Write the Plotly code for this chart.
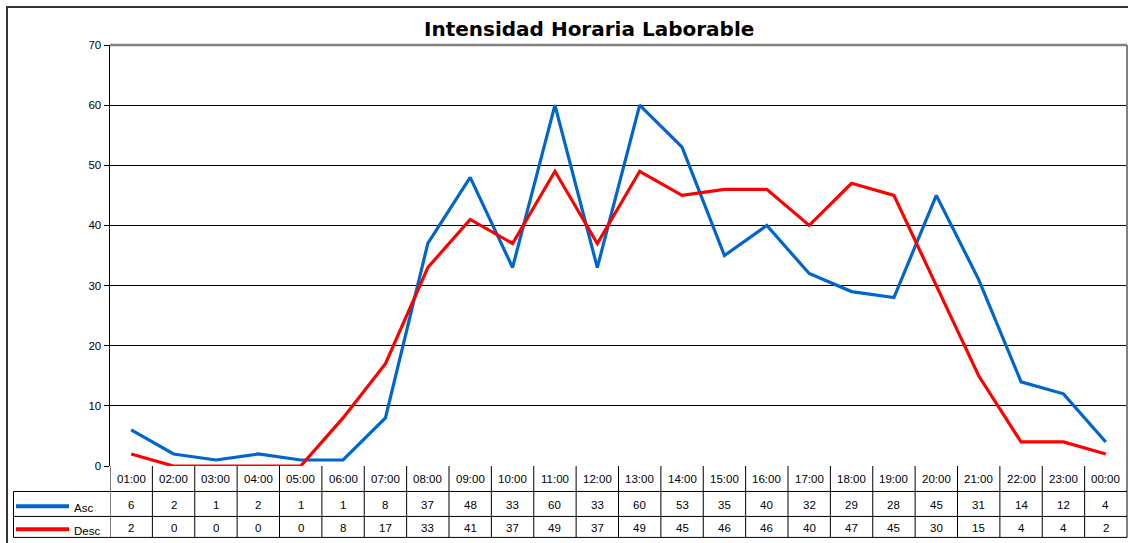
import plotly.graph_objects as go

hours = ["01:00", "02:00", "03:00", "04:00", "05:00", "06:00", "07:00", "08:00",
         "09:00", "10:00", "11:00", "12:00", "13:00", "14:00", "15:00", "16:00",
         "17:00", "18:00", "19:00", "20:00", "21:00", "22:00", "23:00", "00:00"]
asc = [6, 2, 1, 2, 1, 1, 8, 37, 48, 33, 60, 33, 60, 53, 35, 40, 32, 29, 28, 45, 31, 14, 12, 4]
desc = [2, 0, 0, 0, 0, 8, 17, 33, 41, 37, 49, 37, 49, 45, 46, 46, 40, 47, 45, 30, 15, 4, 4, 2]
series = [("Asc", asc, "#0066CC"), ("Desc", desc, "#FF0000")]
title = "Intensidad Horaria Laborable"

W, H = 1128, 543
L, R, T, B = 110, 1127, 45, 466.5  # plot area in pixels

def px(xp):
    return (xp - L) / (R - L)

def py(yp):
    return (B - yp) / (B - T)

FONT = "Liberation Sans, Arial, sans-serif"

fig = go.Figure()
for name, vals, col in series:
    fig.add_trace(go.Scatter(x=hours, y=vals, mode="lines", name=name,
                             line=dict(color=col, width=3.2), showlegend=False))

shapes = []
annotations = []

# outer frame
shapes.append(dict(type="rect", xref="paper", yref="paper", x0=px(7), x1=px(W + 20),
                   y0=py(H + 20), y1=py(7), line=dict(color="#333333", width=2)))
# plot area border top/right (gray)
shapes.append(dict(type="line", xref="paper", yref="paper", x0=0, x1=1, y0=1, y1=1,
                   line=dict(color="#808080", width=2.5)))

tbl_bottom = 538
shapes.append(dict(type="line", xref="paper", yref="paper", x0=1, x1=1, y0=py(tbl_bottom), y1=1,
                   line=dict(color="#808080", width=2)))

# table rows
row_px = [B, 492, 517, tbl_bottom]
row_y = [py(v) for v in row_px]
tbl_left = 13.5
for yv in row_y[1:]:
    shapes.append(dict(type="line", xref="paper", yref="paper", x0=px(tbl_left), x1=1,
                       y0=yv, y1=yv, line=dict(color="#000000", width=1)))
shapes.append(dict(type="line", xref="paper", yref="paper", x0=px(tbl_left), x1=px(tbl_left),
                   y0=row_y[3], y1=row_y[1], line=dict(color="#000000", width=1)))
for i in range(len(hours)):
    shapes.append(dict(type="line", xref="x", yref="paper", x0=i - 0.5, x1=i - 0.5,
                       y0=row_y[3], y1=0, line=dict(color="#000000", width=1)))

TFONT = dict(family=FONT, size=11.5, color="#000000")
nudge = 1.5 / (B - T)
# header labels
for i, h in enumerate(hours):
    annotations.append(dict(x=i, y=(row_y[0] + row_y[1]) / 2, xref="x", yref="paper",
                            text=h, showarrow=False, yanchor="middle", font=TFONT))
# value rows
for r, (name, vals, col) in enumerate(series):
    yc = (row_y[r + 1] + row_y[r + 2]) / 2
    for i, v in enumerate(vals):
        annotations.append(dict(x=i, y=yc - nudge, xref="x", yref="paper", text=str(v),
                                showarrow=False, yanchor="middle", font=TFONT))
    shapes.append(dict(type="line", xref="paper", yref="paper", x0=px(16), x1=px(69),
                       y0=yc - 1.5 * nudge, y1=yc - 1.5 * nudge, line=dict(color=col, width=4)))
    annotations.append(dict(x=px(71.5), y=yc - 2.6 * nudge, xref="paper", yref="paper", text=name,
                            showarrow=False, xanchor="left", yanchor="middle", font=TFONT))

# title
annotations.append(dict(x=px(589), y=py(29), xref="paper", yref="paper",
                        text="<b>" + title + "</b>", showarrow=False, yanchor="middle",
                        font=dict(family="DejaVu Sans, Verdana, sans-serif", size=20,
                                  color="#000000")))

fig.update_layout(
    width=W, height=H,
    margin=dict(l=L, r=W - R, t=T, b=H - B, pad=0),
    paper_bgcolor="#FFFFFF", plot_bgcolor="#FFFFFF",
    hovermode=False,
    xaxis=dict(type="category", range=[-0.5, len(hours) - 0.5], showticklabels=False,
               showgrid=False, zeroline=False, showline=False, ticks=""),
    yaxis=dict(range=[0, 70], dtick=10, showgrid=True, gridcolor="#000000", gridwidth=1,
               zeroline=False, showline=True, linecolor="#000000", linewidth=1.5,
               ticks="outside", ticklen=5, tickcolor="#000000",
               tickfont=dict(family=FONT, size=11.5, color="#000000")),
    shapes=shapes, annotations=annotations,
)

fig.write_html("out.html", config={"displayModeBar": False, "staticPlot": True},
               post_script="document.body.style.margin='0';document.body.style.overflow='hidden';")
